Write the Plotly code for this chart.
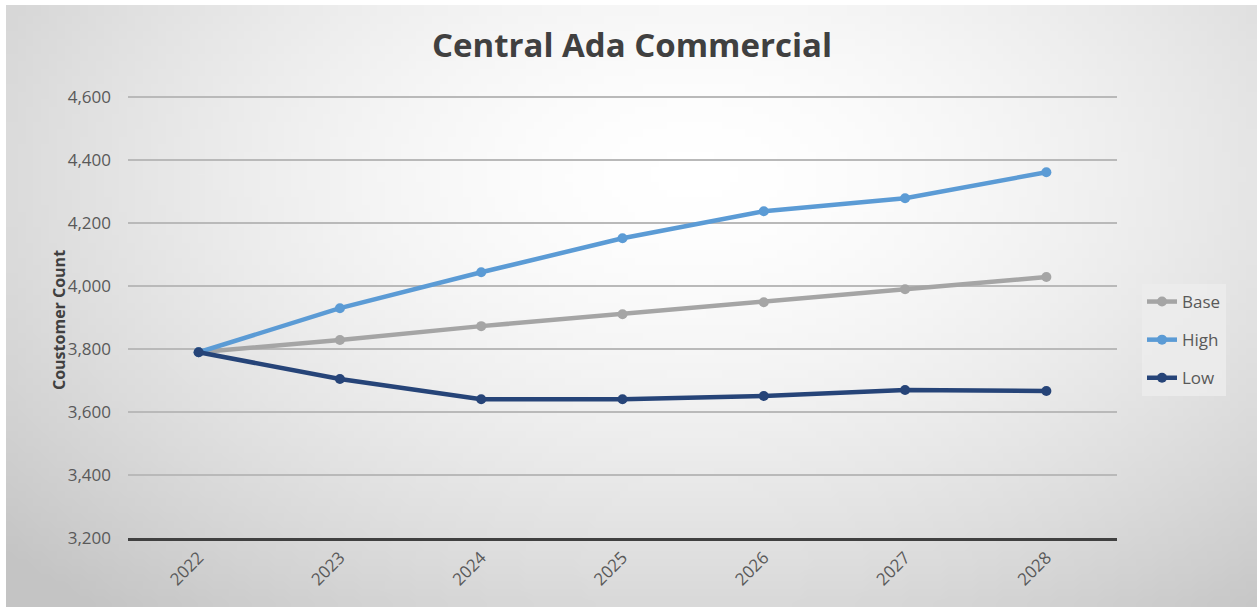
import base64
import math
import struct
import zlib

import plotly.graph_objects as go

# ---- data ----
years = ["2022", "2023", "2024", "2025", "2026", "2027", "2028"]
base = [3790, 3829, 3873, 3911, 3949, 3990, 4029]
high = [3790, 3930, 4044, 4152, 4238, 4279, 4362]
low = [3790, 3705, 3641, 3641, 3651, 3670, 3667]

series_names = ["Base", "High", "Low"]
series_values = [base, high, low]
series_colors = ["#a5a5a5", "#5b9bd5", "#264478"]

y_min, y_max, y_step = 3200, 4600, 200
y_pad = 4  # a little headroom so the top gridline is drawn

FONT = "Open Sans, Segoe UI, sans-serif"

# ---- figure geometry (pixels) ----
W, H = 1259, 610
px_per_unit = 441 / (y_max - y_min)
L, R, B = 128, 142, 72
T = 97 - int(round(y_pad * px_per_unit))
plot_w = W - L - R
plot_h = H - T - B


def radial_gradient_png(w, h, cx, cy, lo, hi):
    """Small grayscale PNG with a radial light-to-dark gradient."""
    rows = bytearray()
    for j in range(h):
        rows.append(0)
        for i in range(w):
            dx = (i / (w - 1) - cx) / 0.75
            dy = (j / (h - 1) - cy) / 0.95
            r = min(1.0, math.sqrt(dx * dx + dy * dy))
            v = hi - (hi - lo) * (r ** 1.6)
            rows.append(int(round(v)))
    raw = zlib.compress(bytes(rows), 9)

    def chunk(tag, data):
        c = struct.pack(">I", len(data)) + tag + data
        return c + struct.pack(">I", zlib.crc32(tag + data) & 0xFFFFFFFF)

    png = b"\x89PNG\r\n\x1a\n"
    png += chunk(b"IHDR", struct.pack(">IIBBBBB", w, h, 8, 0, 0, 0, 0))
    png += chunk(b"IDAT", raw)
    png += chunk(b"IEND", b"")
    return "data:image/png;base64," + base64.b64encode(png).decode()


bg_uri = radial_gradient_png(160, 80, 0.55, 0.28, 196, 255)

fig = go.Figure()
for name, vals, col in zip(series_names, series_values, series_colors):
    fig.add_trace(
        go.Scatter(
            x=years,
            y=vals,
            name=name,
            legendgroup=name,
            mode="lines+markers",
            line=dict(color=col, width=4.5),
            marker=dict(color=col, size=10),
        )
    )

# chart-area background panel (inset a few pixels like a framed chart)
x0_px, y0_px, x1_px, y1_px = 6, 5, 1257, 607
fig.add_layout_image(
    dict(
        source=bg_uri,
        xref="paper",
        yref="paper",
        x=(x0_px - L) / plot_w,
        y=1 + (T - y0_px) / plot_h,
        sizex=(x1_px - x0_px) / plot_w,
        sizey=(y1_px - y0_px) / plot_h,
        sizing="stretch",
        xanchor="left",
        yanchor="top",
        layer="below",
    )
)

fig.add_annotation(
    text="<b>Coustomer Count</b>",
    xref="paper",
    yref="paper",
    x=(46 - L) / plot_w,
    y=(H - B - 320) / plot_h,
    textangle=-90,
    showarrow=False,
    font=dict(family=FONT, size=16, color="#404040"),
)

fig.update_layout(
    width=W,
    height=H,
    margin=dict(l=L, r=R, t=T, b=B),
    paper_bgcolor="white",
    plot_bgcolor="rgba(0,0,0,0)",
    title=dict(
        text="<b>Central Ada Commercial</b>",
        x=0.502,
        xanchor="center",
        y=1 - 45 / H,
        yanchor="middle",
        font=dict(family=FONT, size=33, color="#404040"),
    ),
    font=dict(family=FONT, size=17, color="#595959"),
    showlegend=True,
    legend=dict(
        x=(1142 - L) / plot_w,
        y=(H - B - 284) / plot_h,
        xanchor="left",
        yanchor="top",
        bgcolor="rgba(236,236,236,0.85)",
        font=dict(family=FONT, size=17, color="#595959"),
        itemwidth=30,
        entrywidth=64,
        entrywidthmode="pixels",
        tracegroupgap=13,
    ),
    xaxis=dict(
        type="category",
        range=[-0.5, len(years) - 0.5],
        tickangle=-45,
        showgrid=False,
        showline=True,
        linecolor="#404040",
        linewidth=3,
        ticks="",
        tickfont=dict(family=FONT, size=17, color="#595959"),
    ),
    yaxis=dict(
        range=[y_min, y_max + y_pad],
        tickvals=list(range(y_min, y_max + 1, y_step)),
        tickformat=",",
        showgrid=True,
        gridcolor="#b9b9b9",
        gridwidth=1.5,
        zeroline=False,
        ticks="",
        ticklabelstandoff=16,
        tickfont=dict(family=FONT, size=17, color="#595959"),
    ),
)

fig.write_html("out.html")
